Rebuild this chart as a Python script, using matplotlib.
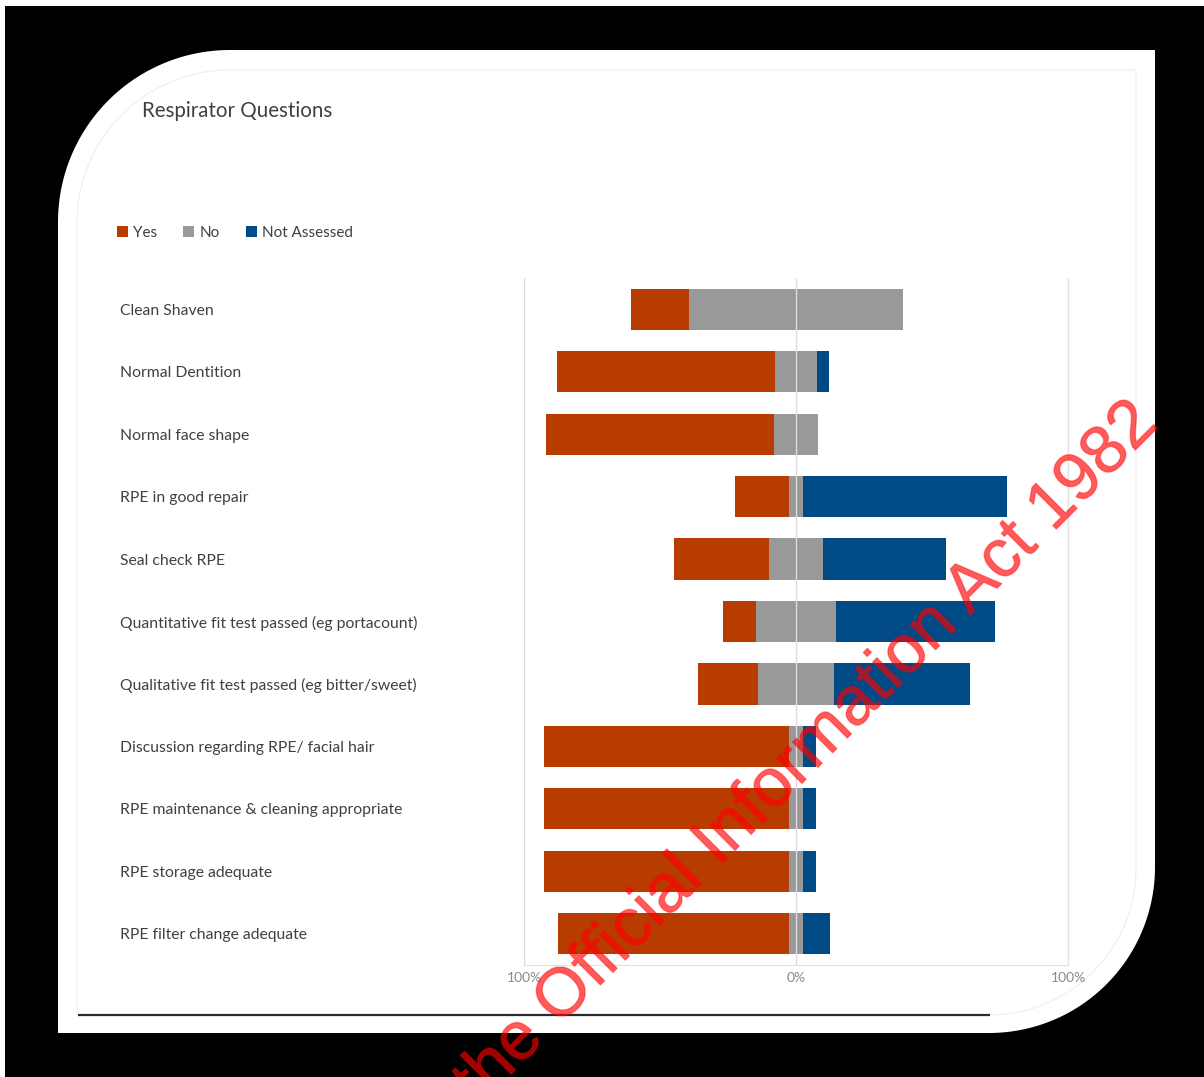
import numpy as np
import matplotlib
matplotlib.use("Agg")
import matplotlib.pyplot as plt
import matplotlib.patheffects as pe
from matplotlib.path import Path
from matplotlib.patches import PathPatch, Rectangle
from matplotlib.ticker import FuncFormatter

# survey answers, percent of responses per question
questions = [
    "Clean Shaven",
    "Normal Dentition",
    "Normal face shape",
    "RPE in good repair",
    "Seal check RPE",
    "Quantitative fit test passed (eg portacount)",
    "Qualitative fit test passed (eg bitter/sweet)",
    "Discussion regarding RPE/ facial hair",
    "RPE maintenance & cleaning appropriate",
    "RPE storage adequate",
    "RPE filter change adequate",
]
yes = [21, 80, 84, 20, 35, 12, 22, 90, 90, 90, 85]
no = [79, 15.5, 16, 5, 20, 29.5, 28, 5, 5, 5, 5]
not_assessed = [0, 4.5, 0, 75, 45, 58.5, 50, 5, 5, 5, 10]
x_ticks = [-100, 0, 100]

YES_COLOR = "#B83C00"
NO_COLOR = "#999999"
NA_COLOR = "#004A85"
TEXT_COLOR = "#404040"

plt.rcParams["font.family"] = ["Lato", "DejaVu Sans"]

W, H = 1204, 1077
fig = plt.figure(figsize=(W / 100, H / 100), dpi=100)
fig.patch.set_facecolor("white")

# backdrop drawn in pixel units (y down)
bg = fig.add_axes([0, 0, 1, 1])
bg.set_xlim(0, W)
bg.set_ylim(H, 0)
bg.axis("off")
bg.add_patch(Rectangle((5, 6), W, H, color="black", lw=0))


def panel_path(x0, y0, x1, y1, r_tl, r_br, n=60):
    t = np.linspace(0, np.pi / 2, n)
    tl = np.column_stack([x0 + r_tl - r_tl * np.cos(t), y0 + r_tl - r_tl * np.sin(t)])
    br = np.column_stack([x1 - r_br + r_br * np.cos(t), y1 - r_br + r_br * np.sin(t)])
    pts = np.vstack([tl, [[x1, y0]], br, [[x0, y1]], tl[:1]])
    return Path(pts)


bg.add_patch(PathPatch(panel_path(58, 50, 1155, 1033, 172, 166), facecolor="white", edgecolor="none"))
bg.add_patch(PathPatch(panel_path(77, 70, 1136, 1015, 153, 147), facecolor="none",
                       edgecolor="#eeeeee", lw=0.8))
bg.plot([78, 990], [1015, 1015], color="#2a2a2a", lw=1.6, solid_capstyle="butt")

bg.text(142, 111, "Respirator Questions", fontsize=14.8, color=TEXT_COLOR, va="center")

# diverging stacked bars, "No" centred on zero
ax = fig.add_axes([524 / W, 1 - 965 / H, (1068 - 524) / W, (965 - 278) / H])
ax.set_facecolor("none")
pos = np.arange(len(questions))
yes_a = np.array(yes, dtype=float)
no_a = np.array(no, dtype=float)
na_a = np.array(not_assessed, dtype=float)
half = no_a / 2

b_yes = ax.barh(pos, yes_a, left=-half - yes_a, height=0.66, color=YES_COLOR, label="Yes")
b_no = ax.barh(pos, no_a, left=-half, height=0.66, color=NO_COLOR, label="No")
b_na = ax.barh(pos, na_a, left=half, height=0.66, color=NA_COLOR, label="Not Assessed")

ax.set_xlim(-100, 100)
ax.set_ylim(len(questions) - 0.5, -0.5)
ax.set_xticks(x_ticks)
ax.xaxis.set_major_formatter(FuncFormatter(lambda v, p: f"{abs(v):.0f}%"))
ax.xaxis.grid(True, color="#dcdcdc", lw=1)
ax.set_axisbelow(False)
for side in ["left", "right", "bottom"]:
    ax.spines[side].set_color("#e2e2e2")
ax.spines["top"].set_visible(False)
ax.tick_params(axis="x", length=0, labelsize=10, labelcolor="#8a8a8a", pad=5)

ax.set_yticks(pos, questions)
ax.tick_params(axis="y", length=0, labelsize=11.3, labelcolor=TEXT_COLOR, pad=291)
for lbl in ax.get_yticklabels():
    lbl.set_horizontalalignment("left")

fig.legend(handles=[b_yes, b_no, b_na], loc="center left",
           bbox_to_anchor=(117 / W, 1 - 233 / H), ncol=3, frameon=False,
           fontsize=11, labelcolor=TEXT_COLOR, handlelength=0.72, handleheight=0.72,
           handletextpad=0.35, columnspacing=1.7, borderpad=0, borderaxespad=0)

# release watermark across the page
fig.text(806, 754, "the Official Information Act 1982", transform=bg.transData,
         rotation=45, rotation_mode="anchor", ha="center", va="center",
         fontsize=49, family="Liberation Sans", color=(1, 0, 0, 0.4), zorder=10,
         path_effects=[pe.Stroke(linewidth=1.0, foreground=(1, 0, 0, 0.35)), pe.Normal()])

fig.savefig("out.png", dpi=100)
